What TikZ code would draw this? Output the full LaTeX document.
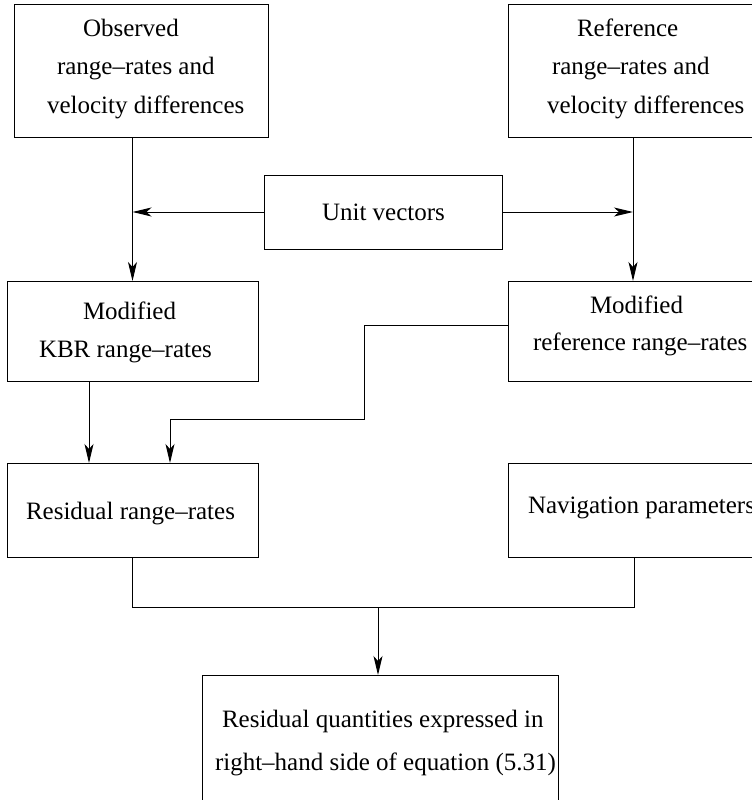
\documentclass[tikz,border=0pt]{standalone}
\usepackage{fontspec}
\setmainfont{Liberation Serif}
\usetikzlibrary{arrows.meta}
\begin{document}
\begin{tikzpicture}[x=1bp,y=-1bp,
  box/.style={draw, rectangle, line width=1bp, inner sep=0pt, outer sep=0pt, anchor=north west},
  lbl/.style={anchor=base west, inner sep=0pt, outer sep=0pt, font=\fontsize{25bp}{30bp}\selectfont},
  wire/.style={line width=1bp},
  arr/.style={wire, -{Stealth[length=19bp, width=9bp, inset=5bp]}}]
\useasboundingbox (0,0) rectangle (752,800);
\clip (0,0) rectangle (752,800);

% boxes
\node[box, minimum width=254bp, minimum height=132bp] (obs)    at (14,5)    {};
\node[box, minimum width=262bp, minimum height=132bp] (refin)  at (508,5)   {};
\node[box, minimum width=238bp, minimum height=74bp]  (unit)   at (264,175) {};
\node[box, minimum width=251bp, minimum height=100bp] (kbr)    at (7,281)   {};
\node[box, minimum width=262bp, minimum height=100bp] (modref) at (508,281) {};
\node[box, minimum width=251bp, minimum height=94bp]  (resid)  at (7,463)   {};
\node[box, minimum width=262bp, minimum height=94bp]  (nav)    at (508,463) {};
\node[box, minimum width=356bp, minimum height=150bp] (final)  at (202,675) {};

% texts
\node[lbl] (obs1) at (83,37)  {Observed};
\node[lbl] (obs2) at (57,75)  {range–rates and};
\node[lbl] (obs3) at (47,113) {velocity differences};
\node[lbl] (ref1) at (577,37)  {Reference};
\node[lbl] (ref2) at (552,75)  {range–rates and};
\node[lbl] (ref3) at (547,113) {velocity differences};
\node[lbl] (unitt) at (322,220) {Unit vectors};
\node[lbl] (kbr1) at (83,319) {Modified};
\node[lbl] (kbr2) at (39,357) {KBR range–rates};
\node[lbl] (mr1) at (590,313) {Modified};
\node[lbl] (mr2) at (533,350) {reference range–rates};
\node[lbl] (rest) at (26,519) {Residual range–rates};
\node[lbl] (navt) at (528,513) {Navigation parameters};
\node[lbl] (fin1) at (222,727) {Residual quantities expressed in};
\node[lbl] (fin2) at (215,770) {right–hand side of equation (5.31)};

% connector columns and rows
\coordinate (rcol) at (633,0);
\coordinate (kcol) at (89,0);
\coordinate (jcol) at (364,0);
\coordinate (acol) at (170,0);
\coordinate (ncol) at (634,0);
\coordinate (fcol) at (378,0);
\coordinate (mrow) at (0,325);
\coordinate (jrow) at (0,419);
\coordinate (brow) at (0,607);

% connectors
\draw[arr] (obs.south -| kbr.north) -- (kbr.north);
\draw[arr] (refin.south -| rcol) -- (modref.north -| rcol);
\draw[arr] (unit.west) -- (unit.west -| kbr.north);
\draw[arr] (unit.east) -- (unit.east -| rcol);
\draw[arr] (kbr.south -| kcol) -- (resid.north -| kcol);
\draw[arr] (modref.west |- mrow) -- (jcol |- mrow) -- (jcol |- jrow)
           -- (acol |- jrow) -- (resid.north -| acol);
\draw[wire] (resid.south) -- (resid.south |- brow) -- (ncol |- brow) -- (nav.south -| ncol);
\draw[arr] (fcol |- brow) -- (final.north -| fcol);
\end{tikzpicture}
\end{document}
